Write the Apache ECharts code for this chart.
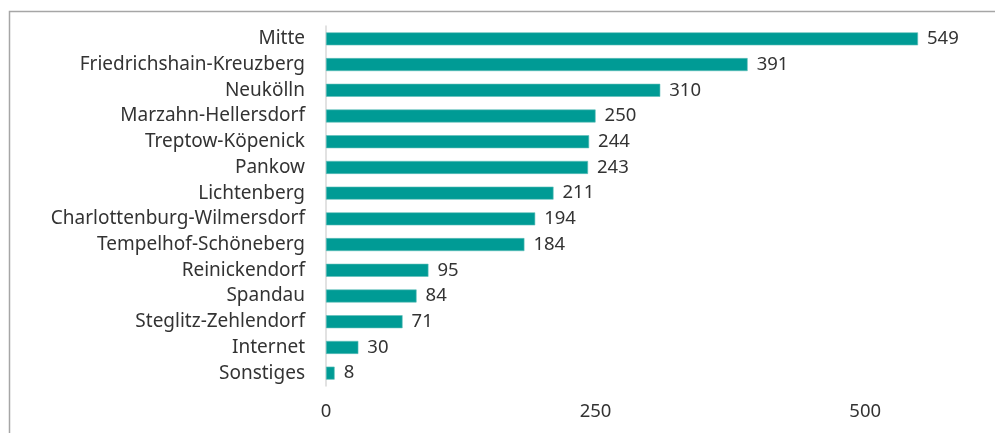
<!DOCTYPE html>
<html>
<head>
<meta charset="utf-8">
<script src="https://cdn.jsdelivr.net/npm/echarts@6/dist/echarts.min.js"></script>
<style>
  html, body { margin: 0; padding: 0; background: #fff; }
  #bezirke { width: 995px; height: 433px; }
</style>
</head>
<body>
<div id="bezirke"></div>
<script>
// Bezirke, von oben nach unten wie im Bild
const districts = [
  "Mitte",
  "Friedrichshain-Kreuzberg",
  "Neukölln",
  "Marzahn-Hellersdorf",
  "Treptow-Köpenick",
  "Pankow",
  "Lichtenberg",
  "Charlottenburg-Wilmersdorf",
  "Tempelhof-Schöneberg",
  "Reinickendorf",
  "Spandau",
  "Steglitz-Zehlendorf",
  "Internet",
  "Sonstiges",
];
const counts = [549, 391, 310, 250, 244, 243, 211, 194, 184, 95, 84, 71, 30, 8];
const xTicks = [0, 250, 500];

var myChart = echarts.init(document.getElementById("bezirke"));

let option = {
  textStyle: {
    fontFamily: "Noto Sans",
    color: "#333",
  },
  animation: false,
  graphic: [
    {
      type: "polyline",
      shape: { points: [[9.5, 433], [9.5, 11.5], [995, 11.5]] },
      style: { stroke: "#a6a6a6", lineWidth: 1.5, fill: null },
    },
  ],
  grid: {
    left: 326,
    right: 22,
    top: 26,
    bottom: 47,
  },
  xAxis: {
    type: "value",
    min: 0,
    max: 600,
    interval: 250,
    splitLine: { show: false },
    axisLine: { show: false },
    axisTick: { show: false },
    axisLabel: {
      fontSize: 18.5,
      color: "#333",
      margin: 16,
      showMaxLabel: false,
      formatter: (v) => (xTicks.includes(v) ? String(v) : ""),
    },
  },
  yAxis: {
    type: "category",
    inverse: true,
    data: districts,
    axisLine: { show: true, lineStyle: { color: "#d9d9d9", width: 1.5 } },
    axisTick: { show: false },
    axisLabel: {
      fontSize: 19,
      color: "#333",
      margin: 21,
    },
  },
  series: [
    {
      name: "Anzahl",
      type: "bar",
      data: counts,
      barWidth: 13,
      itemStyle: {
        color: "#009b95",
        borderColor: "#5fc0bb",
        borderWidth: 0.6,
      },
      label: {
        show: true,
        position: "right",
        distance: 9,
        fontSize: 18.5,
        color: "#333",
      },
    },
  ],
};
myChart.setOption(option);
</script>
</body>
</html>
